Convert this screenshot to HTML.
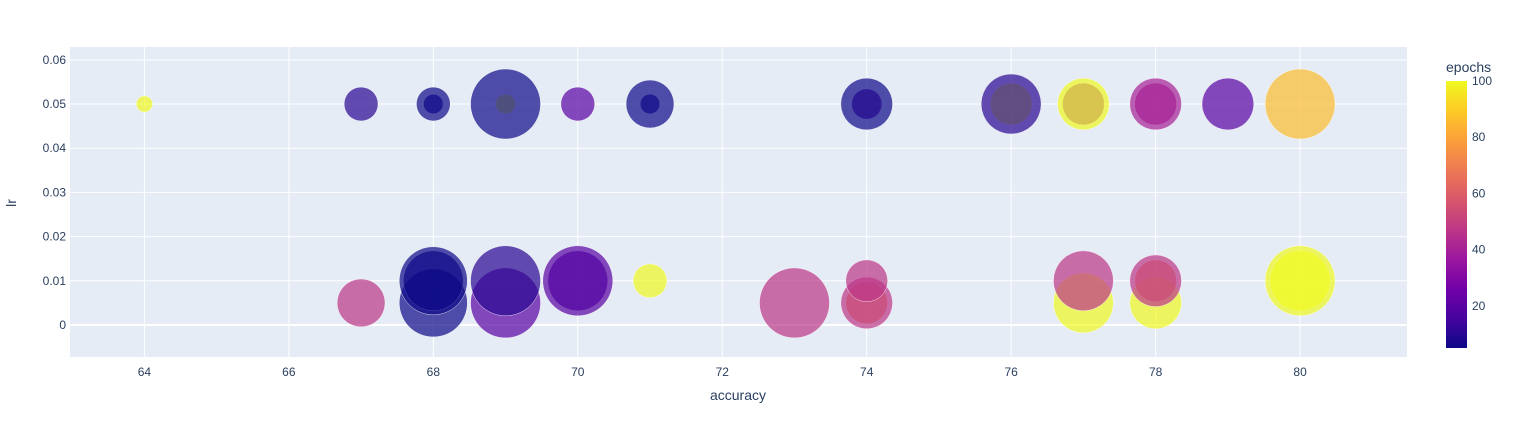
<!DOCTYPE html>
<html><head><meta charset="utf-8"><style>
body{margin:0;background:#fff;}
svg{display:block;font-family:"Liberation Sans",sans-serif;}
</style></head><body>
<svg id="chart" width="1513" height="431"></svg>
<script>
const accuracy = [64,67,68,68,69,69,70,71,71,74,74,76,76,77,77,78,78,79,80,
                  67,68,68,68,69,69,70,70,71,73,74,74,74,77,77,78,78,78,80,80];
const lr = [0.05,0.05,0.05,0.05,0.05,0.05,0.05,0.05,0.05,0.05,0.05,0.05,0.05,0.05,0.05,0.05,0.05,0.05,0.05,
            0.005,0.005,0.01,0.01,0.005,0.01,0.01,0.01,0.01,0.005,0.005,0.005,0.01,0.005,0.01,0.005,0.01,0.01,0.01,0.01];
const sizes = [7,30,10,30,10,128,30,10,60,24,70,46,94,46,70,46,70,70,128,
               60,121,94,121,128,128,94,128,30,128,46,70,46,94,94,70,46,70,94,128];
const epochs = [100,10,5,5,100,5,20,5,5,20,5,100,10,30,100,40,40,20,86,
                47,5,5,5,20,10,15,20,100,47,70,47,47,100,47,100,70,47,100,100];
const xTicks = [64,66,68,70,72,74,76,78,80];
const yTicks = [0,0.01,0.02,0.03,0.04,0.05,0.06];
const yTickLabels = ["0","0.01","0.02","0.03","0.04","0.05","0.06"];
const cbTicks = [20,40,60,80,100];

const NS="http://www.w3.org/2000/svg";
const svg=document.getElementById('chart');
function mk(t,a,p){const e=document.createElementNS(NS,t);for(const k in a)e.setAttribute(k,a[k]);(p||svg).appendChild(e);return e;}
const L=70,R=1407,T=47,B=357;
const xMin=62.97,xMax=81.48,yMin=-0.00724,yMax=0.0629;
const xs=v=>L+(v-xMin)/(xMax-xMin)*(R-L);
const ys=v=>B-(v-yMin)/(yMax-yMin)*(B-T);
const cMin=5,cMax=100;
const stops=["#0d0887","#46039f","#7201a8","#9c179e","#bd3786","#d8576b","#ed7953","#fb9f3a","#fdca26","#f0f921"];
function hex(h){return [1,3,5].map(i=>parseInt(h.substr(i,2),16));}
function color(v){let t=Math.max(0,Math.min(1,(v-cMin)/(cMax-cMin)))*(stops.length-1);let i=Math.min(Math.floor(t),stops.length-2);let f=t-i;const a=hex(stops[i]),b=hex(stops[i+1]);return 'rgb('+a.map((x,k)=>Math.round(x+(b[k]-x)*f)).join(',')+')';}

const bg=mk('rect',{x:L,y:T,width:R-L,height:B-T,fill:'#e5ecf6'});


xTicks.forEach(v=>{
  const g=mk('line',{x1:xs(v),x2:xs(v),y1:T,y2:B,stroke:'#fff','stroke-width':1});
  
  
  const t=mk('text',{x:xs(v),y:376,'text-anchor':'middle','font-size':12,fill:'#2a3f5f'});t.textContent=v;
  
  
});
yTicks.forEach((v,i)=>{
  const g=mk('line',{x1:L,x2:R,y1:ys(v),y2:ys(v),stroke:'#fff','stroke-width':v===0?2:1});
  
  
  const t=mk('text',{x:66,y:ys(v)+4,'text-anchor':'end','font-size':12,fill:'#2a3f5f'});t.textContent=yTickLabels[i];
  
  
});
const rMax=35,sMax=128;
accuracy.forEach((a,i)=>{
  const c=mk('circle',{cx:xs(a),cy:ys(lr[i]),r:rMax*Math.sqrt(sizes[i]/sMax),fill:color(epochs[i]),'fill-opacity':0.7,stroke:'#fff','stroke-width':0.5,'stroke-opacity':0.8});
  
  
});
const xt=mk('text',{x:738,y:400,'text-anchor':'middle','font-size':14,fill:'#2a3f5f'});xt.textContent='accuracy';


const yt=mk('text',{x:16,y:203,'text-anchor':'middle','font-size':14,fill:'#2a3f5f',transform:'rotate(-90 16 203)'});yt.textContent='lr';


const defs=mk('defs',{});
const lg=mk('linearGradient',{id:'cg',x1:0,y1:1,x2:0,y2:0},defs);
stops.forEach((s,i)=>mk('stop',{offset:i/(stops.length-1),'stop-color':s},lg));
const cbT=81,cbB=348;
const cb=mk('rect',{x:1446,y:cbT,width:21,height:cbB-cbT,fill:'url(#cg)'});


const cs=v=>cbB-(v-cMin)/(cMax-cMin)*(cbB-cbT);
cbTicks.forEach(v=>{
  const t=mk('text',{x:1472,y:cs(v)+4,'font-size':12,fill:'#2a3f5f'});t.textContent=v;
  
  
});
const ct=mk('text',{x:1446,y:72,'font-size':14,fill:'#2a3f5f'});ct.textContent='epochs';


</script>
</body></html>
